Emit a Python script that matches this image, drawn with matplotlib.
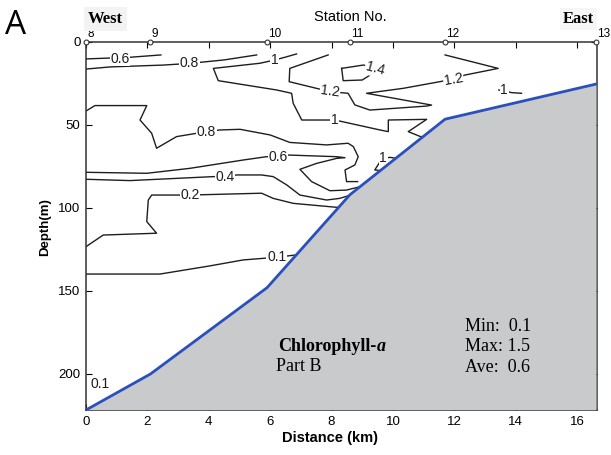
import matplotlib
matplotlib.use("Agg")
import matplotlib.pyplot as plt
import numpy as np

plt.rcParams["font.family"] = ["Liberation Sans", "DejaVu Sans"]

# stations along the transect (km) and bottom depth there (m)
station_no = ["8", "9", "10", "11", "12", "13"]
station_km = [0.0, 2.1, 5.9, 8.6, 11.7, 16.63]
bottom_m = [221.7, 200.0, 148.0, 92.0, 46.5, 25.3]

line_06_top = np.array([[0.0, 10.2], [1.43, 9.2], [2.44, 7.8]])
line_08_top = np.array([[0.0, 16.3], [0.8, 15.0], [2.52, 13.9], [3.37, 12.9],
                        [4.5, 10.8], [5.56, 7.8]])
line_10_top = np.array([[6.86, 7.2], [6.48, 9.2], [6.16, 10.8], [5.67, 12.8],
                        [4.15, 15.9], [4.31, 23.3], [6.21, 28.9], [6.7, 30.9],
                        [6.75, 36.9], [7.03, 47.0], [8.11, 47.0], [9.58, 53.0],
                        [9.85, 54.0], [9.85, 47.0], [11.1, 46.6], [10.5, 54.0],
                        [10.9, 57.0], [11.0, 57.0]])
line_12 = np.array([[7.89, 7.8], [6.64, 15.9], [6.62, 23.9], [7.95, 29.9],
                    [8.54, 30.9], [8.76, 37.9], [9.25, 41.0], [11.1, 38.6],
                    [11.26, 38.0], [9.14, 30.9], [10.34, 27.9], [11.53, 23.9],
                    [11.97, 22.3], [12.35, 19.9], [13.43, 15.9], [11.7, 7.8]])
line_14 = np.array([[8.33, 15.9], [9.03, 13.9], [9.63, 15.6], [9.0, 22.9],
                    [8.38, 23.3], [8.33, 15.9]])
line_10_east = np.array([[13.45, 28.9], [13.87, 30.5], [14.19, 30.9]])
line_10_slope = np.array([[9.62, 77.5], [9.41, 77.1], [9.55, 73.0],
                          [9.68, 70.1], [9.9, 69.5], [10.1, 70.0]])
line_08 = np.array([[0.0, 41.6], [0.29, 38.3], [1.98, 38.3], [1.76, 47.0],
                    [2.14, 55.0], [2.3, 64.0], [2.95, 57.0], [3.93, 54.0],
                    [4.36, 53.0], [5.02, 52.6], [6.0, 56.0], [6.64, 60.5],
                    [7.84, 62.0], [8.54, 61.0], [8.71, 63.0], [8.87, 69.1],
                    [8.76, 74.1], [8.44, 77.1], [8.49, 84.1], [8.85, 84.1]])
line_06 = np.array([[0.0, 78.5], [1.98, 79.1], [3.39, 76.1], [5.12, 71.1],
                    [5.88, 69.1], [6.26, 69.1], [6.59, 68.1], [8.17, 69.1],
                    [8.44, 69.7], [8.17, 70.1], [7.52, 73.1], [6.97, 76.7],
                    [7.35, 84.1], [7.95, 89.6], [8.49, 89.2], [8.92, 87.2]])
line_04 = np.array([[0.0, 82.7], [1.43, 83.5], [4.15, 81.1], [4.53, 81.1],
                    [4.91, 80.1], [5.72, 80.1], [6.1, 81.1], [6.54, 86.1],
                    [6.97, 92.2], [7.84, 95.2], [8.27, 94.2], [8.62, 92.2]])
line_02 = np.array([[0.0, 123.3], [0.56, 116.3], [2.3, 115.2], [1.98, 108.2],
                    [2.03, 95.2], [2.14, 92.2], [3.39, 92.2], [5.72, 91.1],
                    [6.1, 94.2], [6.75, 97.2], [8.17, 99.6], [8.25, 99.6]])
line_01 = np.array([[0.0, 139.8], [2.41, 139.8], [4.0, 135.0], [5.12, 131.3],
                    [6.21, 129.7], [6.88, 128.2]])

isolines = [line_06_top, line_08_top, line_10_top, line_12, line_14,
            line_10_east, line_10_slope, line_08, line_06, line_04,
            line_02, line_01]

# contour labels: text, km, depth, rotation
iso_labels = [("0.6", 1.11, 10.0, 0), ("0.8", 3.37, 12.9, 0),
              ("1", 6.14, 11.0, 0), ("1.2", 7.95, 29.9, -8),
              ("1.4", 9.41, 16.3, -15), ("1.2", 11.97, 22.3, 10),
              ("1", 13.62, 28.9, 0), ("1", 9.68, 70.1, 0),
              ("1", 8.11, 47.0, 0), ("0.8", 3.93, 54.0, 0),
              ("0.6", 6.26, 69.1, 0), ("0.4", 4.53, 81.1, 0),
              ("0.2", 3.39, 92.2, 0), ("0.1", 6.21, 129.7, 0)]

stats = ["Min:  0.1", "Max: 1.5", "Ave:  0.6"]

x_max = 16.65
y_max = 221.7

fig = plt.figure(figsize=(6.11, 4.55), dpi=100)
ax = fig.add_axes([86 / 611, 1 - 410 / 455, 511 / 611, 368 / 455])

for line in isolines:
    ax.plot(line[:, 0], line[:, 1], color="#1e1e1e", lw=1.0, zorder=2)

for txt, km, dep, rot in iso_labels:
    ax.text(km, dep, txt, fontsize=10, ha="center", va="center", rotation=rot,
            color="#1e1e1e", zorder=2.5,
            bbox=dict(boxstyle="square,pad=0.05", fc="white", ec="none"))

# sea floor
ax.fill_between(station_km, bottom_m, 300, color="#c9cacc", lw=0, zorder=3)
ax.plot(station_km, bottom_m, color="#2a50c0", lw=2.0, zorder=4,
        solid_capstyle="round")

ax.text(0.46, 206, "0.1", fontsize=10, ha="center", va="center",
        color="#1e1e1e", zorder=5)

serif = ["Liberation Serif", "DejaVu Serif"]
t_chl = ax.text(6.27, 183.3, "Chlorophyll-", family=serif, fontsize=13,
                fontweight="bold", ha="left", va="center", zorder=5)
ax.annotate("a", xy=(1, 0), xycoords=t_chl, va="bottom", ha="left",
            family=serif, fontsize=13, fontweight="bold", style="italic",
            zorder=5)
ax.text(6.2, 195.6, "Part B", family=serif, fontsize=13, ha="left",
        va="center", zorder=5)
for i, s in enumerate(stats):
    ax.text(12.34, 171.6 + 12.1 * i, s, family=serif, fontsize=13,
            ha="left", va="center", zorder=5)

# station markers on the top axis
ax.plot(station_km, np.zeros(len(station_km)), "o", ms=3.5, mfc="white",
        mec="#333333", mew=0.8, clip_on=False, zorder=6)
for km, name in zip(station_km, station_no):
    ax.annotate(name, xy=(km, 0), xytext=(0.8, 1.5), textcoords="offset points",
                fontsize=8.5, ha="left", va="bottom", annotation_clip=False)

ax.set_xlim(0, x_max)
ax.set_ylim(y_max, 0)
ax.set_xticks(np.arange(0, 17, 2))
ax.set_yticks([0, 50, 100, 150, 200])
ax.tick_params(direction="in", top=True, right=True, length=4, width=0.8,
               labelsize=9.5, pad=4)
for sp in ax.spines.values():
    sp.set_linewidth(1.1)
    sp.set_color("#333333")

ax.set_xlabel("Distance (km)", fontsize=10.5, fontweight="bold")
ax.xaxis.set_label_coords(0.477, -0.057)
ax.set_ylabel("Depth(m)", fontsize=9.5, fontweight="bold")
ax.yaxis.set_label_coords(-0.068, 0.497)

fig.text(88 / 611, 1 - 19 / 455, "West", family=serif, fontsize=12,
         fontweight="bold", ha="left", va="center",
         bbox=dict(boxstyle="square,pad=0.25", fc="#f3f3f3", ec="none"))
fig.text(594 / 611, 1 - 19 / 455, "East", family=serif, fontsize=12,
         fontweight="bold", ha="right", va="center",
         bbox=dict(boxstyle="square,pad=0.2", fc="#f6f6f6", ec="none"))
fig.text(350 / 611, 1 - 17 / 455, "Station No.", fontsize=10.5, ha="center",
         va="center")
fig.text(5 / 611, 1 - 25 / 455, "A", family=["Open Sans", "DejaVu Sans"],
         fontsize=24, ha="left", va="center")

fig.savefig("out.png", dpi=100)
